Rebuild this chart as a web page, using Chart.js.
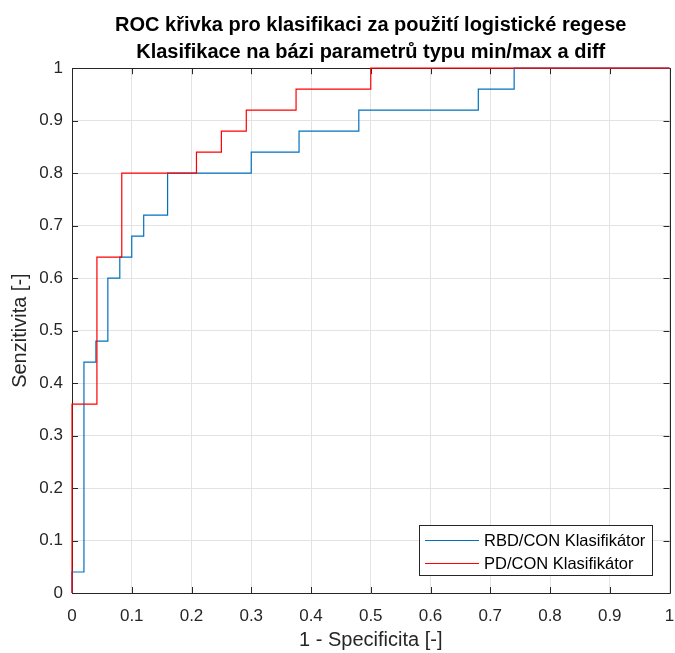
<!DOCTYPE html>
<html>
<head>
<meta charset="utf-8">
<title>ROC křivka</title>
<script src="https://cdn.jsdelivr.net/npm/chart.js@4/dist/chart.umd.min.js"></script>
<style>
  html, body { margin: 0; padding: 0; background: #fff; }
  #wrap { width: 675px; height: 653px; }
</style>
</head>
<body>
<div id="wrap"><canvas id="roc"></canvas></div>
<script>
// ROC vertices
var rbdX = [0, 0, 0.02, 0.02, 0.04, 0.04, 0.06, 0.06, 0.08, 0.08, 0.10, 0.10, 0.12, 0.12, 0.16, 0.16, 0.30, 0.30, 0.38, 0.38, 0.48, 0.48, 0.68, 0.68, 0.74, 0.74, 1];
var rbdY = [0, 0.04, 0.04, 0.44, 0.44, 0.48, 0.48, 0.60, 0.60, 0.64, 0.64, 0.68, 0.68, 0.72, 0.72, 0.80, 0.80, 0.84, 0.84, 0.88, 0.88, 0.92, 0.92, 0.96, 0.96, 1, 1];
var pdX = [0, 0, 0.0417, 0.0417, 0.0833, 0.0833, 0.2083, 0.2083, 0.25, 0.25, 0.2917, 0.2917, 0.375, 0.375, 0.5, 0.5, 1];
var pdY = [0, 0.36, 0.36, 0.64, 0.64, 0.80, 0.80, 0.84, 0.84, 0.88, 0.88, 0.92, 0.92, 0.96, 0.96, 1, 1];
var seriesNames = ['RBD/CON Klasifikátor', 'PD/CON Klasifikátor'];
var titleLines = ['ROC křivka pro klasifikaci za použití logistické regese', 'Klasifikace na bázi parametrů typu min/max a diff'];
var xLabel = '1 - Specificita [-]';
var yLabel = 'Senzitivita [-]';

function pts(xs, ys) {
  return xs.map(function (x, i) { return { x: x, y: ys[i] }; });
}

var FONT = "'Liberation Sans', Arial, Helvetica, sans-serif";
var AXC = '#262626';

// box + inward ticks like matlab axes, legend inside axes
var boxPlugin = {
  id: 'box',
  beforeDatasetsDraw: function (chart) {
    var c = chart.ctx, a = chart.chartArea;
    var xs = chart.scales.x, ys = chart.scales.y;
    c.save();
    c.strokeStyle = AXC;
    c.lineWidth = 1;
    c.beginPath();
    c.rect(Math.round(a.left) + 0.5, Math.round(a.top) + 0.5, Math.round(a.right - a.left), Math.round(a.bottom - a.top));
    c.stroke();
    c.beginPath();
    xs.ticks.forEach(function (t) {
      var px = Math.round(xs.getPixelForValue(t.value)) + 0.5;
      c.moveTo(px, a.bottom); c.lineTo(px, a.bottom - 6);
      c.moveTo(px, a.top); c.lineTo(px, a.top + 6);
    });
    ys.ticks.forEach(function (t) {
      var py = Math.round(ys.getPixelForValue(t.value)) + 0.5;
      c.moveTo(a.left, py); c.lineTo(a.left + 6, py);
      c.moveTo(a.right, py); c.lineTo(a.right - 6, py);
    });
    c.stroke();
    c.restore();
  },
  afterDatasetsDraw: function (chart) {
    var c = chart.ctx;
    var x0 = 419.5, y0 = 525.5, w = 233, h = 50;
    c.save();
    c.fillStyle = '#fff';
    c.fillRect(x0, y0, w, h);
    c.strokeStyle = AXC;
    c.lineWidth = 1;
    c.strokeRect(x0, y0, w, h);
    c.font = '16.5px ' + FONT;
    c.textBaseline = 'middle';
    chart.data.datasets.forEach(function (ds, i) {
      var yy = Math.round(540 + i * 23.3) + 0.5;
      c.strokeStyle = ds.borderColor;
      c.lineWidth = 1.2;
      c.beginPath();
      c.moveTo(425, yy); c.lineTo(479, yy);
      c.stroke();
      c.fillStyle = '#000';
      c.fillText(ds.label, 484, yy + 1);
    });
    c.restore();
  }
};

new Chart(document.getElementById('roc'), {
  type: 'line',
  data: {
    datasets: [
      { label: seriesNames[0], data: pts(rbdX, rbdY), borderColor: '#0072BD', borderWidth: 1.2, pointRadius: 0, fill: false, tension: 0, order: 1, clip: false },
      { label: seriesNames[1], data: pts(pdX, pdY), borderColor: '#FF0000', borderWidth: 1.2, pointRadius: 0, fill: false, tension: 0, order: 0, clip: false }
    ]
  },
  options: {
    responsive: true,
    maintainAspectRatio: false,
    animation: false,
    events: [],
    layout: { padding: { top: 0, right: 5.5, bottom: 0, left: 0 } },
    plugins: {
      legend: { display: false },
      tooltip: { enabled: false },
      title: {
        display: true,
        text: titleLines,
        fullSize: false,
        color: '#000',
        font: { family: FONT, size: 20, weight: 'bold', lineHeight: 1.33 },
        padding: { top: 12.5, bottom: 2.5 }
      }
    },
    scales: {
      x: {
        type: 'linear',
        min: 0, max: 1,
        afterFit: function (s) { s.height = 60; s.paddingLeft = 0; s.paddingRight = 0; },
        ticks: { stepSize: 0.1, color: AXC, font: { family: FONT, size: 17 }, padding: 13,
          callback: function (v) { return Math.round(v * 10) / 10 + ''; } },
        grid: { color: '#e3e3e3', drawTicks: false },
        border: { display: false },
        title: { display: true, text: xLabel, color: AXC, font: { family: FONT, size: 20 }, padding: { top: 0, bottom: 1 } }
      },
      y: {
        type: 'linear',
        min: 0, max: 1,
        afterFit: function (s) { s.width = 72; s.paddingTop = 0; s.paddingBottom = 0; },
        ticks: { stepSize: 0.1, color: AXC, font: { family: FONT, size: 17 }, padding: 9,
          callback: function (v) { return Math.round(v * 10) / 10 + ''; } },
        grid: { color: '#e3e3e3', drawTicks: false },
        border: { display: false },
        title: { display: true, text: yLabel, color: AXC, font: { family: FONT, size: 20 }, padding: { top: 8, bottom: 0 } }
      }
    }
  },
  plugins: [boxPlugin]
});
</script>
</body>
</html>
